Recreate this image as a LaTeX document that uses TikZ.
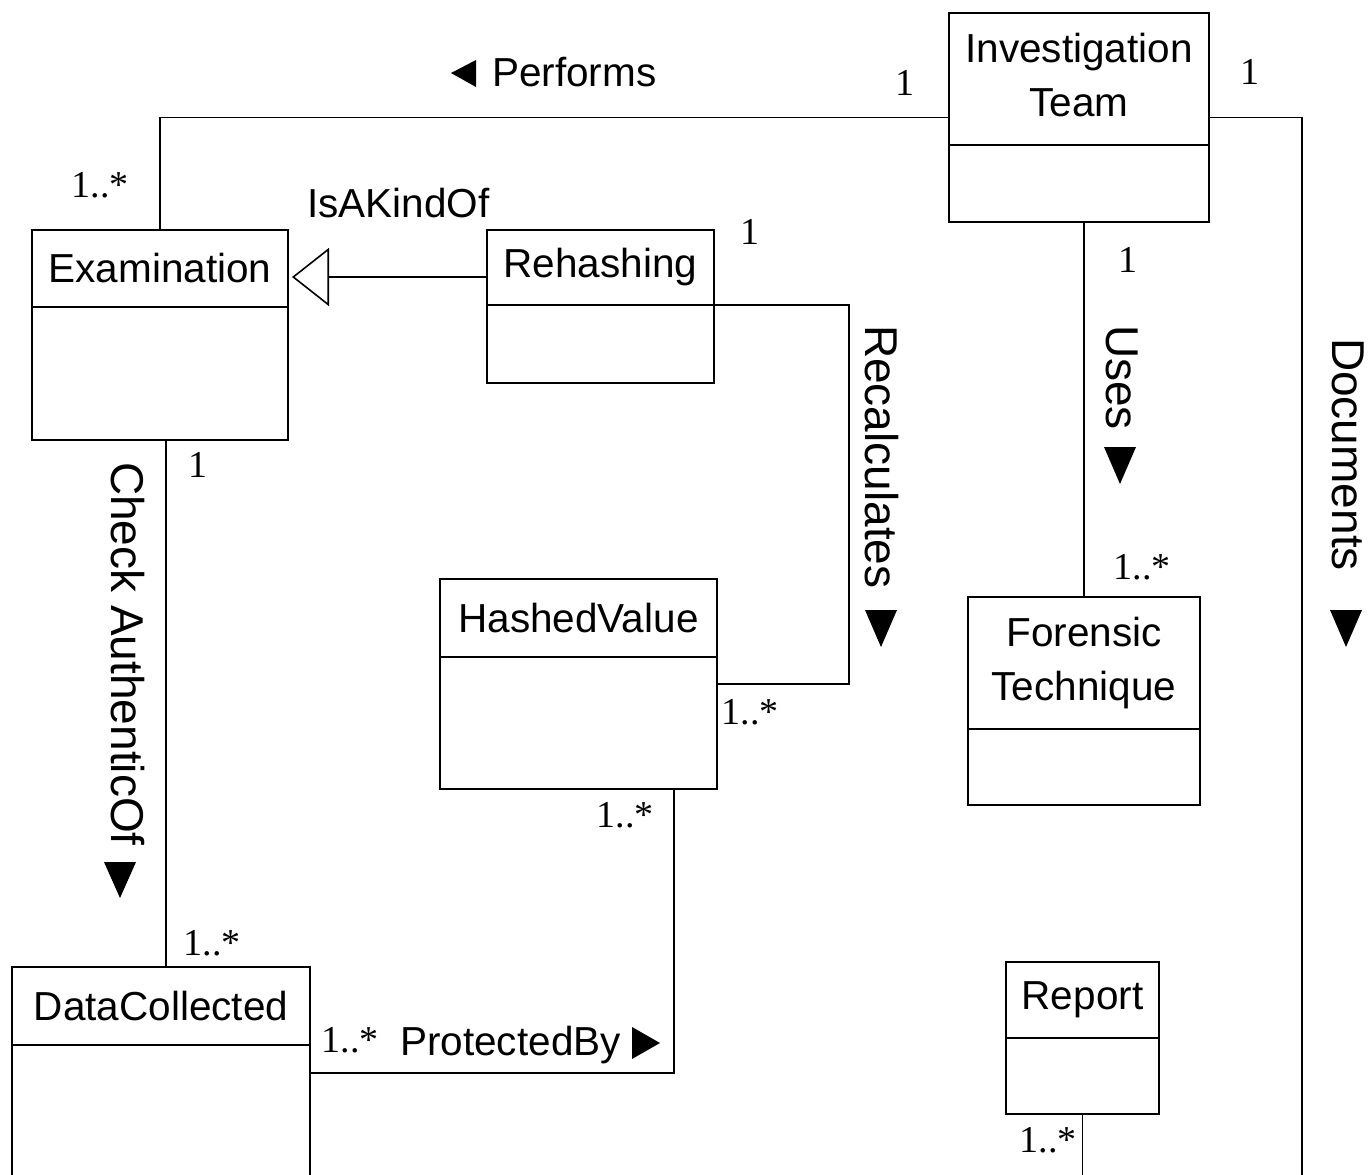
\documentclass[tikz,border=0pt]{standalone}
\usepackage{fontspec}
\setmainfont{Liberation Sans}
\newfontfamily\multfont{Liberation Serif}
\usetikzlibrary{arrows.meta,calc}
\tikzset{
 classbox/.style={draw, line width=1.6pt, rectangle, inner sep=0pt, outer sep=0pt, anchor=north west},
 cname/.style={font=\fontsize{40.5}{54}\selectfont, align=center, inner sep=0pt},
 conn/.style={line width=1.6pt},
 mult/.style={font=\multfont\fontsize{38}{40}\selectfont, inner sep=0pt},
 rlabel/.style={font=\fontsize{46}{50}\selectfont, rotate=-90, anchor=west, inner sep=0pt},
 hlabel/.style={font=\fontsize{40.5}{50}\selectfont, inner sep=0pt},
 tri/.style={fill=black},
 gen/.style={conn, shorten >=4pt, -{Triangle[open, length=37pt, width=58pt, line width=1.6pt]}}
}
\newcommand\umlclass[8]{%
  \node[classbox, minimum width=#4pt, minimum height=#5pt] (#1) at (#2,#3) {};
  \draw[conn] ($(#1.north west)+(0,#6)$) -- ($(#1.north east)+(0,#6)$);
  \node[cname, #8] (#1-name) at ($(#1.north)+(0,#6/2)$) {#7};
}
\begin{document}
\begin{tikzpicture}[x=1pt, y=-1pt]
\useasboundingbox (0,0) rectangle (1369,1175);
\clip (0,0) rectangle (1369,1175);
\fill[white] (0,0) rectangle (1369,1175);

% classes
\umlclass{it}{949}{13}{260}{209}{132}{Investigation\\Team}{yshift=4pt}
\umlclass{exam}{32}{230}{256}{210}{77}{Examination}{}
\umlclass{reh}{487}{230}{227}{153}{75}{Rehashing}{}
\umlclass{hv}{440}{579}{277}{210}{78}{HashedValue}{}
\umlclass{ft}{968}{597}{232}{208}{132}{Forensic\\Technique}{}
\umlclass{dc}{12}{967}{298}{240}{78}{DataCollected}{}
\umlclass{rep}{1006}{962}{153}{152}{76}{Report}{}

% helper coordinates
\coordinate (docend) at (1302,1190);
\coordinate (gy) at (0,277);
\coordinate (rc) at (849,305);
\coordinate (cx) at (166,0);
\coordinate (pb) at (674,1073);
\coordinate (repend) at (1083,1190);

% connectors
\draw[conn] (it.west) -| (exam.north);
\draw[conn] (it.east) -| (docend);
\draw[gen] (reh.west |- gy) -- (exam.east |- gy);
\draw[conn] (reh.east |- rc) -- (rc) |- (hv.east);
\draw[conn] (ft.north) -- (ft.north |- it.south);
\draw[conn] (cx |- exam.south) -- (cx |- dc.north);
\draw[conn] (dc.east |- pb) -- (pb) -- (pb |- hv.south);
\draw[conn] (rep.south) -- (rep.south |- repend);

% association labels
\node[hlabel, anchor=west] (lperf) at (492,72) {Performs};
\fill[tri] (451,73) -- (476,60) -- (476,87) -- cycle;
\node[hlabel, anchor=west] (lkind) at (307,203) {IsAKindOf};
\node[hlabel, anchor=base west] (lprot) at (400,1055) {ProtectedBy};
\fill[tri] (660,1043) -- (632,1027) -- (632,1059) -- cycle;
\node[rlabel] (lcheck) at (128,462) {Check AuthenticOf};
\fill[tri] (104,862) -- (136,862) -- (120,898) -- cycle;
\node[rlabel] (lrecalc) at (882,325) {Recalculates};
\fill[tri] (865,610) -- (897,610) -- (881,647) -- cycle;
\node[rlabel] (luses) at (1122,325) {Uses};
\fill[tri] (1104,447) -- (1136,447) -- (1120,484) -- cycle;
\node[rlabel] (ldoc) at (1348,338) {Documents};
\fill[tri] (1330,610) -- (1362,610) -- (1346,647) -- cycle;

% multiplicities
\node[mult] (m1) at (905,83) {1};
\node[mult] (m2) at (1250,72) {1};
\node[mult] (m3) at (100,185) {1..*};
\node[mult] (m4) at (750,232) {1};
\node[mult] (m5) at (750,712) {1..*};
\node[mult] (m6) at (1128,260) {1};
\node[mult] (m7) at (1142,567) {1..*};
\node[mult] (m8) at (198,465) {1};
\node[mult] (m9) at (212,943) {1..*};
\node[mult] (m10) at (625,815) {1..*};
\node[mult] (m11) at (350,1040) {1..*};
\node[mult] (m12) at (1048,1140) {1..*};
\end{tikzpicture}
\end{document}
